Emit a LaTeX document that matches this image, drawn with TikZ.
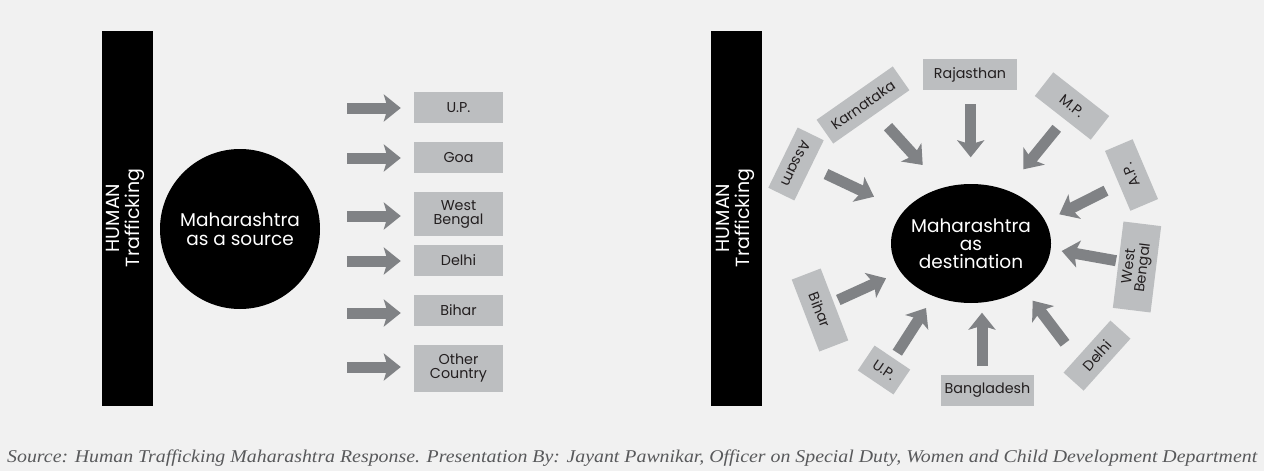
\documentclass[tikz,border=0pt]{standalone}
\usepackage{fontspec}
\usepackage{graphicx}
\setmainfont{Liberation Serif}
\newfontfamily\popfont{Poppins}
\usetikzlibrary{arrows.meta,shapes.geometric}
\definecolor{bgcol}{HTML}{F1F1F1}
\definecolor{boxcol}{HTML}{BCBEC0}
\definecolor{arrcol}{HTML}{808285}
\definecolor{txtcol}{HTML}{231F20}
\definecolor{srccol}{HTML}{58595B}
\begin{document}
\begin{tikzpicture}[x=1pt,y=-1pt,
  place/.style={fill=boxcol, text=txtcol, inner sep=0pt, align=center,
    font=\popfont\fontsize{14.3}{14}\selectfont},
  flowarrow/.style={draw=arrcol, line width=11pt,
    -{Stealth[length=17pt,width=27pt,inset=4pt]}},
  bar/.style={fill=black, inner sep=0pt, minimum width=51pt, minimum height=375pt},
  bartext/.style={text=white, rotate=90, align=center, inner sep=0pt,
    font=\popfont\fontsize{19}{20}\selectfont},
  hubtext/.style={text=white, align=center, inner sep=0pt,
    font=\popfont\fontsize{18.5}{19}\selectfont}]
\path[fill=bgcol] (0,0) rectangle (1264,471);
\useasboundingbox (0,0) rectangle (1264,471);

% ---------- left: source ----------
\node[bar] (barL) at (127.5,218.5) {};
\node[bartext] (htL) at (125,218) {HUMAN\\Trafficking};
\node[circle, fill=black, minimum size=160pt, inner sep=0pt] (srcc) at (240,229) {};
\node[hubtext] (srct) at (srcc) {Maharashtra\\as a source};

\node[place, minimum width=89pt, minimum height=31pt] (lup) at (458.5,107.5) {U.P.};
\node[place, minimum width=89pt, minimum height=31pt] (lgoa) at (458.5,157.5) {Goa};
\node[place, minimum width=89pt, minimum height=44pt] (lwb) at (458.5,214) {West\\Bengal};
\node[place, minimum width=89pt, minimum height=31pt] (ldel) at (458.5,260.5) {Delhi};
\node[place, minimum width=89pt, minimum height=31pt] (lbih) at (458.5,310.5) {Bihar};
\node[place, minimum width=89pt, minimum height=47pt] (loth) at (458.5,368.5) {Other\\Country};

\coordinate (tup) at (347,108);
\coordinate (tgoa) at (347,158);
\coordinate (twb) at (347,216);
\coordinate (tdel) at (347,261);
\coordinate (tbih) at (347,313);
\coordinate (toth) at (347,367);
\foreach \t/\b in {tup/lup,tgoa/lgoa,twb/lwb,tdel/ldel,tbih/lbih,toth/loth}
  \draw[flowarrow, shorten >=13pt] (\t) -- (\t -| \b.west);

% ---------- right: destination ----------
\node[bar] (barR) at (736.5,218.5) {};
\node[bartext] (htR) at (735,218) {HUMAN\\Trafficking};
\node[ellipse, fill=black, minimum width=160pt, minimum height=119pt, inner sep=0pt] (dstc) at (971,243.5) {};
\node[hubtext, font=\popfont\fontsize{18.5}{18}\selectfont] (dstt) at (dstc) {Maharashtra\\as\\destination};

\node[place, minimum width=94pt, minimum height=31pt] (raj) at (970,74.5) {Rajasthan};
\node[place, minimum width=93pt, minimum height=29pt, rotate=35] (kar) at (863,105) {Karnataka};
\node[place, minimum width=67pt, minimum height=29pt, rotate=-116] (ass) at (796,164) {Assam};
\node[place, minimum width=71pt, minimum height=30pt, rotate=-38] (mp) at (1072,106) {M.P.};
\node[place, minimum width=65pt, minimum height=30pt, rotate=113] (ap) at (1131.5,175) {A.P.};
\node[place, minimum width=87pt, minimum height=38pt, rotate=83] (rwb) at (1137,267) {West\\Bengal};
\node[place, minimum width=70pt, minimum height=27pt, rotate=48] (rdel) at (1097,355.6) {Delhi};
\node[place, minimum width=93pt, minimum height=31pt] (ban) at (987.5,390.5) {Bangladesh};
\node[place, minimum width=43pt, minimum height=30pt, rotate=-34] (rup) at (884,370) {U.P.};
\node[place, minimum width=77pt, minimum height=31pt, rotate=-69] (rbih) at (820,310) {Bihar};

\coordinate (rajT) at (970.7,104);   \coordinate (rajH) at (970.7,157.3);
\coordinate (karT) at (888,126.7);   \coordinate (karH) at (922.7,165);
\coordinate (assT) at (826,174);     \coordinate (assH) at (874,196.7);
\coordinate (mpT) at (1056.7,128.3); \coordinate (mpH) at (1023.3,169.3);
\coordinate (apT) at (1106,190.7);   \coordinate (apH) at (1059.3,214.3);
\coordinate (rwbT) at (1116,260.7);  \coordinate (rwbH) at (1061.7,251);
\coordinate (rdelT) at (1065,343.3); \coordinate (rdelH) at (1032.7,300.7);
\coordinate (banT) at (982,366);     \coordinate (banH) at (982,312.7);
\coordinate (rupT) at (897.3,352.7); \coordinate (rupH) at (926,308);
\coordinate (rbihT) at (838.3,300);  \coordinate (rbihH) at (886,278.3);
\foreach \n in {raj,kar,ass,mp,ap,rwb,rdel,ban,rup,rbih}
  \draw[flowarrow] (\n T) -- (\n H);

% ---------- caption ----------
\node[anchor=base west, text=srccol, inner sep=0pt] (cap) at (7,462)
  {\resizebox{1250pt}{\height}{\itshape\fontsize{18}{18}\selectfont Source: Human Trafficking Maharashtra Response. Presentation By: Jayant Pawnikar, Officer on Special Duty, Women and Child Development Department}};
\end{tikzpicture}
\end{document}
